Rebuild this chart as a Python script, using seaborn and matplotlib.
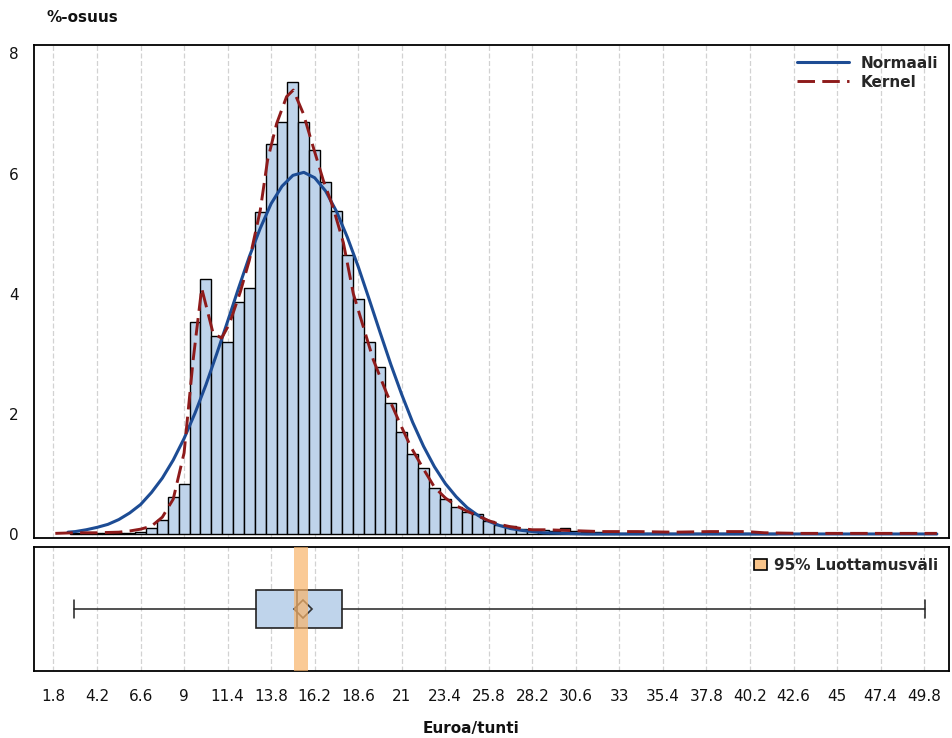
import matplotlib
matplotlib.use("Agg")
import matplotlib.pyplot as plt
from matplotlib.lines import Line2D
from matplotlib.patches import Patch
import numpy as np
import seaborn as sns

# histogram: percent per 0.6 wide bin, first bin centred at 3.0
BIN_START = 3.0
BIN_WIDTH = 0.6
bar_pct = [
    0.01, 0.01, 0.01, 0.01, 0.01, 0.02, 0.04, 0.10, 0.24, 0.61, 0.83,
    3.53, 4.24, 3.30, 3.20, 3.87, 4.10, 5.36, 6.50, 6.85, 7.52,
    6.85, 6.39, 5.86, 5.38, 4.65, 3.91, 3.20, 2.78, 2.18, 1.70,
    1.33, 1.09, 0.76, 0.58, 0.45, 0.36, 0.33, 0.21, 0.15, 0.14,
    0.08, 0.06, 0.06, 0.05, 0.10, 0.05, 0.03, 0.03, 0.02, 0.02,
    0.02, 0.02, 0.02, 0.01, 0.01, 0.01, 0.02, 0.02, 0.01, 0.01,
    0.01, 0.01, 0.01, 0.01,
]

normal_x = [2.6, 3.0, 3.6, 4.2, 4.8, 5.4, 6.0, 6.6, 7.2, 7.8, 8.4, 9.0, 9.6, 10.2,
            10.8, 11.4, 12.0, 12.6, 13.2, 13.8, 14.4, 15.0, 15.6, 16.2, 16.8, 17.4,
            18.0, 18.6, 19.2, 19.8, 20.4, 21.0, 21.6, 22.2, 22.8, 23.4, 24.0, 24.6,
            25.2, 25.8, 26.4, 27.0, 27.6, 28.2, 28.8, 30.0, 31.2, 34.0, 50.5]
normal_pct = [0.03, 0.04, 0.07, 0.11, 0.16, 0.24, 0.35, 0.49, 0.69, 0.93, 1.23, 1.59,
              2.01, 2.48, 3.00, 3.54, 4.09, 4.62, 5.09, 5.50, 5.79, 5.97, 6.02, 5.93,
              5.71, 5.37, 4.94, 4.45, 3.91, 3.36, 2.82, 2.32, 1.86, 1.46, 1.12, 0.84,
              0.62, 0.44, 0.31, 0.21, 0.14, 0.09, 0.06, 0.04, 0.02, 0.01, 0.0, 0.0, 0.0]

kernel_x = [1.9, 3.0, 4.2, 5.4, 6.0, 6.6, 7.2, 7.8, 8.4, 9.0, 9.5, 9.97, 10.6, 11.07,
            11.5, 12.1, 12.6, 13.2, 13.6, 14.1, 14.65, 15.02, 15.57, 16.12, 16.67,
            17.2, 17.78, 18.33, 18.88, 19.43, 20.17, 20.9, 21.5, 22.2, 22.8, 23.4,
            24.0, 24.6, 25.2, 25.8, 26.4, 27.0, 27.6, 28.2, 29.0, 30.0, 31.0, 32.0,
            34.0, 36.0, 38.0, 40.0, 41.0, 43.0, 46.0, 50.5]
kernel_pct = [0.01, 0.02, 0.02, 0.03, 0.05, 0.08, 0.13, 0.28, 0.58, 1.35, 2.90, 4.09,
              3.34, 3.26, 3.50, 4.03, 4.56, 5.39, 6.22, 6.83, 7.28, 7.39, 7.00, 6.44,
              5.89, 5.45, 4.85, 4.00, 3.45, 2.90, 2.34, 1.84, 1.45, 1.08, 0.78, 0.60,
              0.47, 0.38, 0.30, 0.22, 0.16, 0.12, 0.09, 0.07, 0.07, 0.06, 0.05, 0.04,
              0.04, 0.03, 0.04, 0.04, 0.02, 0.01, 0.01, 0.01]

# box plot summary and the 95 % interval band
box_stats = {"whislo": 2.94, "q1": 12.96, "med": 15.2, "mean": 15.54,
             "q3": 17.69, "whishi": 49.85, "fliers": []}
ci_low, ci_high = 15.08, 15.85

x_ticks = [1.8, 4.2, 6.6, 9, 11.4, 13.8, 16.2, 18.6, 21, 23.4, 25.8, 28.2, 30.6,
           33, 35.4, 37.8, 40.2, 42.6, 45, 47.4, 49.8]
x_tick_labels = ["1.8", "4.2", "6.6", "9", "11.4", "13.8", "16.2", "18.6", "21",
                 "23.4", "25.8", "28.2", "30.6", "33", "35.4", "37.8", "40.2",
                 "42.6", "45", "47.4", "49.8"]
y_ticks = [0, 2, 4, 6, 8]

HIST_FILL = "#bfd4eb"
NORMAL_BLUE = "#1d4c94"
KERNEL_RED = "#8e1b1b"
BAND = "#f9b46a"

sns.set_style("white")
plt.rcParams["font.family"] = ["DejaVu Sans"]

W, H = 953, 738
fig = plt.figure(figsize=(W / 100, H / 100), dpi=100)
left, right = 34, 949
ax = fig.add_axes([left / W, 1 - 538 / H, (right - left) / W, (538 - 45) / H])
axb = fig.add_axes([left / W, 1 - 671 / H, (right - left) / W, (671 - 547) / H])

xlim = (0.725, 51.17)
centers = np.round(BIN_START + BIN_WIDTH * np.arange(len(bar_pct)), 2)
sns.histplot(x=centers, weights=bar_pct, binwidth=BIN_WIDTH,
             binrange=(BIN_START - BIN_WIDTH / 2, centers[-1] + BIN_WIDTH / 2),
             color=HIST_FILL, edgecolor="black", linewidth=1.0, alpha=1, ax=ax)
sns.lineplot(x=normal_x, y=normal_pct, color=NORMAL_BLUE, linewidth=2.2, ax=ax)
sns.lineplot(x=kernel_x, y=kernel_pct, color=KERNEL_RED, linewidth=2.1, ax=ax)
ax.lines[-1].set_dashes([6, 2.5])

for a in (ax, axb):
    a.set_xlim(*xlim)
    a.set_xticks(x_ticks)
    a.grid(axis="x", color="#d2d2d2", linestyle=(0, (4, 2)), linewidth=0.9)
    a.set_axisbelow(True)
    for s in a.spines.values():
        s.set_color("black")
        s.set_linewidth(1.3)
    a.set_xlabel("")
    a.set_ylabel("")

ax.set_ylim(-0.067, 8.14)
ax.set_yticks(y_ticks)
ax.set_yticklabels([str(v) for v in y_ticks])
ax.tick_params(axis="x", length=0, labelbottom=False)
ax.tick_params(axis="y", length=6, width=1.2, direction="out", labelsize=11,
               labelcolor="#111111", pad=5)

handles = [Line2D([], [], color=NORMAL_BLUE, lw=2.2),
           Line2D([], [], color=KERNEL_RED, lw=2.1, dashes=[6, 2.5])]
ax.legend(handles, ["Normaali", "Kernel"], loc="upper right", frameon=False,
          prop={"weight": "bold", "size": 11}, handlelength=3.4,
          borderaxespad=0.3, labelspacing=0.25)

axb.bxp([box_stats], orientation="horizontal", positions=[0], widths=0.3,
        showmeans=True, showfliers=False, patch_artist=True,
        boxprops=dict(facecolor=HIST_FILL, edgecolor="#222222", linewidth=1.2),
        medianprops=dict(color="#333333", linewidth=1.2),
        whiskerprops=dict(color="#222222", linewidth=1.1),
        capprops=dict(color="#222222", linewidth=1.1),
        meanprops=dict(marker="D", markerfacecolor="none",
                       markeredgecolor="#333333", markersize=9, markeredgewidth=1.2))
axb.axvspan(ci_low, ci_high, color=BAND, alpha=0.7, lw=0, zorder=3)
axb.set_ylim(-0.5, 0.5)
axb.set_yticks([])
axb.set_xticks(x_ticks)
axb.set_xticklabels(x_tick_labels)
axb.tick_params(axis="x", length=8, width=1.2, direction="out", labelsize=11,
                labelcolor="#111111", pad=5)
axb.legend([Patch(facecolor="#f9c48a", edgecolor="black", linewidth=1.2)],
           ["95% Luottamusväli"], loc="upper right", frameon=False,
           prop={"weight": "bold", "size": 11}, handlelength=0.8, handleheight=0.8,
           borderaxespad=0.3, handletextpad=0.5)

fig.text(47 / W, 1 - 18 / H, "%-osuus", fontweight="bold", fontsize=11,
         ha="left", va="center", color="#111111")
fig.text(471 / W, 1 - 728 / H, "Euroa/tunti", fontweight="bold", fontsize=11,
         ha="center", va="center", color="#111111")

fig.savefig("out.png", dpi=100)
